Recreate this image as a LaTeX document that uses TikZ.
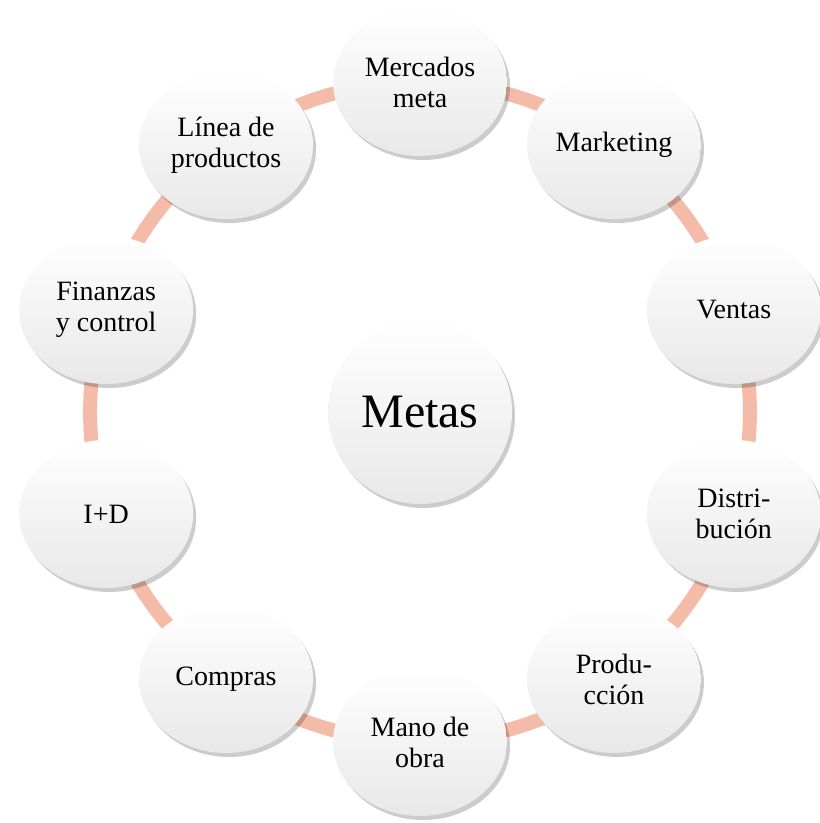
\documentclass[tikz,border=0pt]{standalone}
\usepackage{fontspec}
\setmainfont{Liberation Serif}
\usetikzlibrary{shapes.geometric,shadows,backgrounds}
\newcommand*\ringradius{330pt}
\definecolor{ringsalmon}{RGB}{244,187,169}
\tikzset{
  area/.style={
    ellipse,
    draw=none,
    top color=white,
    middle color=white,
    bottom color=black!9,
    drop shadow={shadow xshift=3pt, shadow yshift=-4pt, opacity=0.2, fill=black},
    minimum width=174pt,
    minimum height=148pt,
    inner sep=0pt,
    align=center,
    font=\fontsize{28}{31}\selectfont
  },
  goal/.style={area, circle, minimum size=184pt, font=\fontsize{48}{56}\selectfont},
  ring/.style={line width=14pt, draw=ringsalmon}
}

\begin{document}
\begin{tikzpicture}[x=1pt,y=1pt]
  \useasboundingbox (-420,-411) rectangle (400,412);

  % The goal in the middle.
  \node[goal] (metas) at (0,0) {Metas};

  % The areas round the ring, clockwise from the top.
  \foreach \a/\name/\txt in {90/mercados/Mercados\\meta,
                             54/marketing/Marketing,
                             18/ventas/Ventas,
                             -18/distribucion/Distri-\\bución,
                             -54/produccion/Produ-\\cción,
                             -90/manodeobra/Mano de\\obra,
                             -126/compras/Compras,
                             -162/imasd/I+D,
                             162/finanzas/Finanzas\\y control,
                             126/linea/Línea de\\productos}
    \node[area] (\name) at (\a:\ringradius) {\txt};

  % Ring pieces between neighbours.
  \begin{scope}[on background layer]
    \foreach \from/\to in {mercados/marketing, marketing/ventas, ventas/distribucion,
                           distribucion/produccion, produccion/manodeobra,
                           manodeobra/compras, compras/imasd, imasd/finanzas,
                           finanzas/linea, linea/mercados}
      \draw[ring] (\from.center) to[bend left=18, looseness=0.87] (\to.center);
  \end{scope}
\end{tikzpicture}
\end{document}
